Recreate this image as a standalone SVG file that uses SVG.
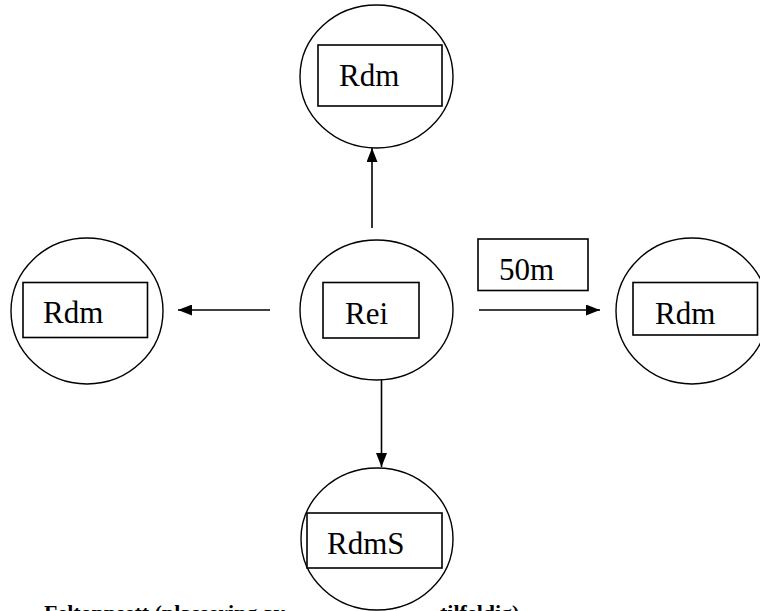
<svg xmlns="http://www.w3.org/2000/svg" width="760" height="611" viewBox="0 0 760 611">
<style>
.c{fill:#fff;stroke:#000;stroke-width:1.4}
.b{fill:#fff;stroke:#000;stroke-width:1.6}
.t{font-family:"Liberation Serif","Times New Roman",serif;font-size:31px;fill:#000}
.n{font-family:"Liberation Serif","Times New Roman",serif;font-size:22px;font-weight:bold;fill:#000}
.l{stroke:#000;stroke-width:1.6;fill:none;marker-end:url(#ah)}
</style>
<defs>
<marker id="ah" viewBox="0 0 14 11" refX="14" refY="5.5" markerWidth="14" markerHeight="11" markerUnits="userSpaceOnUse" orient="auto">
<path d="M0,0 L14,5.5 L0,11 Z" fill="#000"/>
</marker>
</defs>
<text class="n" x="44" y="620">Feltoppsett (plassering av<tspan x="440">tilfeldig)</tspan></text>
<g id="connectors">
<line class="l" x1="372" y1="228" x2="372" y2="148"/>
<line class="l" x1="270" y1="310" x2="178" y2="310"/>
<line class="l" x1="479" y1="310" x2="600" y2="310"/>
<line class="l" x1="381.5" y1="380" x2="381.5" y2="467"/>
</g>
<g id="node-top">
<ellipse class="c" cx="376.5" cy="76.5" rx="76.5" ry="71.5"/>
<rect class="b" x="318" y="45" width="124" height="61"/>
<text class="t" x="339" y="86">Rdm</text>
</g>
<g id="node-left">
<ellipse class="c" cx="87" cy="311" rx="76" ry="73"/>
<rect class="b" x="23" y="282.5" width="124.5" height="55"/>
<text class="t" x="43" y="322.5">Rdm</text>
</g>
<g id="node-center">
<ellipse class="c" cx="376.5" cy="310" rx="76.5" ry="70"/>
<rect class="b" x="323" y="282.5" width="96" height="55.5"/>
<text class="t" x="345" y="323.5">Rei</text>
</g>
<g id="node-right">
<ellipse class="c" cx="692" cy="311" rx="76" ry="73"/>
<rect class="b" x="633" y="282.5" width="124.5" height="52.5"/>
<text class="t" x="655" y="323.5">Rdm</text>
</g>
<g id="label-50m">
<rect class="b" x="478" y="239" width="110" height="51.5"/>
<text class="t" x="499" y="280">50m</text>
</g>
<g id="node-bottom">
<ellipse class="c" cx="377" cy="539" rx="76" ry="71"/>
<rect class="b" x="307" y="513" width="135" height="55"/>
<text class="t" x="327" y="553.5">RdmS</text>
</g>
</svg>
